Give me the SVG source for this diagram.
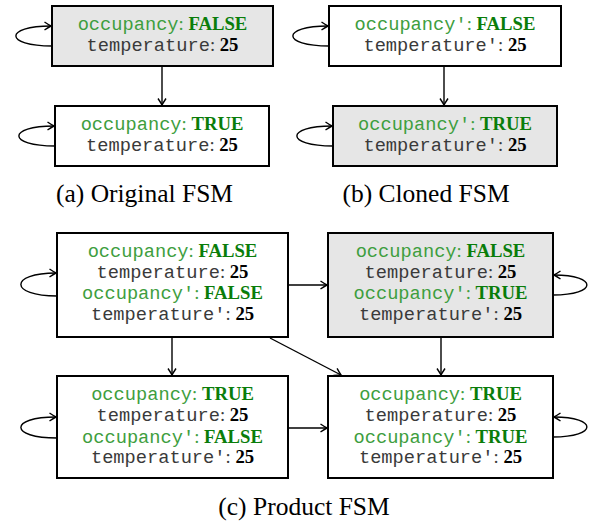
<svg xmlns="http://www.w3.org/2000/svg" width="600" height="521" viewBox="0 0 600 521">
<defs>
<style>
.box{fill:#ffffff;stroke:#000;stroke-width:2}
.gray{fill:#e6e6e6}
.t{font-size:18.7px;text-anchor:middle}
.m{font-family:"Liberation Mono","DejaVu Sans Mono",monospace}
.s{font-family:"Liberation Serif","DejaVu Serif",serif}
.b{font-family:"Liberation Serif","DejaVu Serif",serif;font-weight:bold}
.g{fill:#3e9e3e}
.dg{fill:#0a7d0a}
.k{fill:#3a3a3a}
.n{fill:#000}
.cap{font-family:"Liberation Serif","DejaVu Serif",serif;font-size:25.5px;text-anchor:middle;fill:#000}
.e{fill:none;stroke:#000;stroke-width:1.4}
</style>
<marker id="ah" viewBox="-8 -5 9 10" refX="0" refY="0" markerWidth="9" markerHeight="10" markerUnits="userSpaceOnUse" orient="auto">
<path d="M-6.5,-4 Q-2,-1 0,0 Q-2,1 -6.5,4" fill="none" stroke="#000" stroke-width="1.4"/>
</marker>
</defs>

<g id="connectors">
<path class="e" marker-end="url(#ah)" d="M52,46 C4,46 4,26 51,26"/>
<path class="e" marker-end="url(#ah)" d="M55,146 C7,146 7,126 54,126"/>
<path class="e" marker-end="url(#ah)" d="M162,67 L162,105"/>
<path class="e" marker-end="url(#ah)" d="M329,46 C281,46 281,26 328,26"/>
<path class="e" marker-end="url(#ah)" d="M333,146 C285,146 285,126 332,126"/>
<path class="e" marker-end="url(#ah)" d="M444,67 L444,105"/>
<path class="e" marker-end="url(#ah)" d="M57,296 C9,296 9,273 56,273"/>
<path class="e" marker-end="url(#ah)" d="M57,438 C9,438 9,417 56,417"/>
<path class="e" marker-end="url(#ah)" d="M553,295 C598,295 598,275 554,275"/>
<path class="e" marker-end="url(#ah)" d="M553,437 C598,437 598,417 554,417"/>
<path class="e" marker-end="url(#ah)" d="M289,285 L327,285"/>
<path class="e" marker-end="url(#ah)" d="M289,428 L327,428"/>
<path class="e" marker-end="url(#ah)" d="M172,338 L172,375"/>
<path class="e" marker-end="url(#ah)" d="M441,338 L441,375"/>
<path class="e" marker-end="url(#ah)" d="M270,338 L341,375"/>
</g>

<g id="a1">
<rect class="box gray" x="52" y="6" width="221" height="60"/>
<text class="t" x="162.5" y="30"><tspan class="m g">occupancy</tspan><tspan class="s g">: </tspan><tspan class="b dg">FALSE</tspan></text>
<text class="t" x="162.5" y="51"><tspan class="m k">temperature</tspan><tspan class="s k">: </tspan><tspan class="b n">25</tspan></text>
</g>
<g id="a2">
<rect class="box" x="55" y="106" width="214" height="60"/>
<text class="t" x="162" y="130"><tspan class="m g">occupancy</tspan><tspan class="s g">: </tspan><tspan class="b dg">TRUE</tspan></text>
<text class="t" x="162" y="151"><tspan class="m k">temperature</tspan><tspan class="s k">: </tspan><tspan class="b n">25</tspan></text>
</g>
<g id="b1">
<rect class="box" x="329" y="6" width="232" height="60"/>
<text class="t" x="445" y="30"><tspan class="m g">occupancy′</tspan><tspan class="s g">: </tspan><tspan class="b dg">FALSE</tspan></text>
<text class="t" x="445" y="51"><tspan class="m k">temperature′</tspan><tspan class="s k">: </tspan><tspan class="b n">25</tspan></text>
</g>
<g id="b2">
<rect class="box gray" x="333" y="106" width="224" height="60"/>
<text class="t" x="445" y="130"><tspan class="m g">occupancy′</tspan><tspan class="s g">: </tspan><tspan class="b dg">TRUE</tspan></text>
<text class="t" x="445" y="151"><tspan class="m k">temperature′</tspan><tspan class="s k">: </tspan><tspan class="b n">25</tspan></text>
</g>

<text class="cap" x="144.5" y="202">(a) Original FSM</text>
<text class="cap" x="426" y="202">(b) Cloned FSM</text>

<g id="p1">
<rect class="box" x="57" y="233" width="231" height="104"/>
<text class="t" x="172.5" y="257"><tspan class="m g">occupancy</tspan><tspan class="s g">: </tspan><tspan class="b dg">FALSE</tspan></text>
<text class="t" x="172.5" y="278"><tspan class="m k">temperature</tspan><tspan class="s k">: </tspan><tspan class="b n">25</tspan></text>
<text class="t" x="172.5" y="299"><tspan class="m g">occupancy′</tspan><tspan class="s g">: </tspan><tspan class="b dg">FALSE</tspan></text>
<text class="t" x="172.5" y="320"><tspan class="m k">temperature′</tspan><tspan class="s k">: </tspan><tspan class="b n">25</tspan></text>
</g>
<g id="p2">
<rect class="box gray" x="328" y="233" width="225" height="104"/>
<text class="t" x="440.5" y="257"><tspan class="m g">occupancy</tspan><tspan class="s g">: </tspan><tspan class="b dg">FALSE</tspan></text>
<text class="t" x="440.5" y="278"><tspan class="m k">temperature</tspan><tspan class="s k">: </tspan><tspan class="b n">25</tspan></text>
<text class="t" x="440.5" y="299"><tspan class="m g">occupancy′</tspan><tspan class="s g">: </tspan><tspan class="b dg">TRUE</tspan></text>
<text class="t" x="440.5" y="320"><tspan class="m k">temperature′</tspan><tspan class="s k">: </tspan><tspan class="b n">25</tspan></text>
</g>
<g id="p3">
<rect class="box" x="57" y="376" width="231" height="102"/>
<text class="t" x="172.5" y="400"><tspan class="m g">occupancy</tspan><tspan class="s g">: </tspan><tspan class="b dg">TRUE</tspan></text>
<text class="t" x="172.5" y="421"><tspan class="m k">temperature</tspan><tspan class="s k">: </tspan><tspan class="b n">25</tspan></text>
<text class="t" x="172.5" y="443"><tspan class="m g">occupancy′</tspan><tspan class="s g">: </tspan><tspan class="b dg">FALSE</tspan></text>
<text class="t" x="172.5" y="463"><tspan class="m k">temperature′</tspan><tspan class="s k">: </tspan><tspan class="b n">25</tspan></text>
</g>
<g id="p4">
<rect class="box" x="328" y="376" width="225" height="102"/>
<text class="t" x="440.5" y="400"><tspan class="m g">occupancy</tspan><tspan class="s g">: </tspan><tspan class="b dg">TRUE</tspan></text>
<text class="t" x="440.5" y="421"><tspan class="m k">temperature</tspan><tspan class="s k">: </tspan><tspan class="b n">25</tspan></text>
<text class="t" x="440.5" y="443"><tspan class="m g">occupancy′</tspan><tspan class="s g">: </tspan><tspan class="b dg">TRUE</tspan></text>
<text class="t" x="440.5" y="463"><tspan class="m k">temperature′</tspan><tspan class="s k">: </tspan><tspan class="b n">25</tspan></text>
</g>

<text class="cap" x="304" y="515">(c) Product FSM</text>
</svg>
